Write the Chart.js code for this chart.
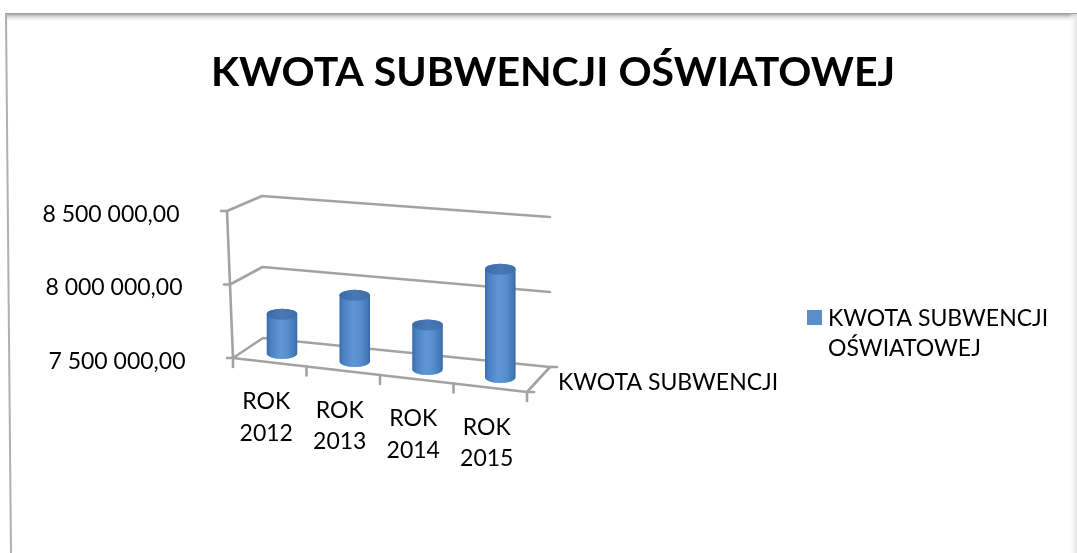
<!DOCTYPE html>
<html><head><meta charset="utf-8">
<script src="https://cdn.jsdelivr.net/npm/chart.js@4.4.1/dist/chart.umd.min.js"></script>
<style>html,body{margin:0;padding:0;background:#fff;overflow:hidden}#wrap{position:relative;width:1077px;height:553px}</style>
</head><body><div id="wrap"><canvas id="c" width="1077" height="553"></canvas></div>
<script>
// ---- data ----
const chartTitle = 'KWOTA SUBWENCJI OŚWIATOWEJ';
const categories = ['ROK 2012', 'ROK 2013', 'ROK 2014', 'ROK 2015'];
const seriesName = 'KWOTA SUBWENCJI OŚWIATOWEJ';
const depthAxisLabel = 'KWOTA SUBWENCJI';
const subventionValues = [7770000, 7950000, 7800000, 8220000];
const yTickValues = [7500000, 8000000, 8500000];
const yTickLabels = ['7 500 000,00', '8 000 000,00', '8 500 000,00'];

// ---- 3D frame (layout, screen corners of the wall box) ----
const FONT = 'Lato';
const C = {
  F00: [233, 358], F10: [527, 392], F01: [227, 211], F11: [527, 240],
  B00: [263, 338], B10: [550, 367], B01: [262, 196], B11: [550, 217]
};
const BAR_DEPTH = 0.42;
function bil(a, b, c, d, u, v) {
  return [
    (1-u)*(1-v)*a[0] + u*(1-v)*b[0] + (1-u)*v*c[0] + u*v*d[0],
    (1-u)*(1-v)*a[1] + u*(1-v)*b[1] + (1-u)*v*c[1] + u*v*d[1]
  ];
}
function P(u, v, w) {
  const f = bil(C.F00, C.F10, C.F01, C.F11, u, v);
  const b = bil(C.B00, C.B10, C.B01, C.B11, u, v);
  return [f[0] + (b[0]-f[0])*w, f[1] + (b[1]-f[1])*w];
}
function line(ctx, a, b) { ctx.beginPath(); ctx.moveTo(a[0], a[1]); ctx.lineTo(b[0], b[1]); ctx.stroke(); }

const GRID = '#a3a3a3';

const threeD = {
  id: 'threeD',
  beforeDatasetsDraw(chart) {
    const ctx = chart.ctx, xs = chart.scales.x, ys = chart.scales.y;
    const U = px => (px - xs.left) / (xs.right - xs.left);
    const V = py => (ys.bottom - py) / (ys.bottom - ys.top);
    ctx.save();
    // page frame
    let g = ctx.createLinearGradient(0, 13, 0, 22);
    g.addColorStop(0, '#9a9a9a'); g.addColorStop(0.25, '#bdbdbd'); g.addColorStop(1, 'rgba(255,255,255,0)');
    ctx.fillStyle = g; ctx.fillRect(5, 13, 1072, 9);
    g = ctx.createLinearGradient(1068, 0, 1077, 0);
    g.addColorStop(0, 'rgba(255,255,255,0)'); g.addColorStop(1, '#e2e2e2');
    ctx.fillStyle = g; ctx.fillRect(1068, 14, 9, 539);
    ctx.strokeStyle = '#b0b0b0'; ctx.lineWidth = 2;
    line(ctx, [6, 14], [11, 553]);

    // walls
    ctx.strokeStyle = GRID; ctx.lineWidth = 2.6; ctx.lineCap = 'round'; ctx.lineJoin = 'round';
    yTickValues.forEach(t => {
      const v = V(ys.getPixelForValue(t));
      ctx.beginPath();
      const a = P(0, v, 0), b = P(0, v, 1), c = P(1, v, 1);
      ctx.moveTo(a[0], a[1]); ctx.lineTo(b[0], b[1]); ctx.lineTo(c[0], c[1]); ctx.stroke();
      line(ctx, a, [a[0]-6, a[1]]);
    });
    line(ctx, P(0, 0, 0), P(0, 1, 0));
    ctx.beginPath();
    let a = P(0, 0, 0), b = P(1, 0, 0), c = P(1, 0, 1);
    ctx.moveTo(a[0], a[1]); ctx.lineTo(b[0], b[1]); ctx.lineTo(c[0], c[1]); ctx.stroke();
    line(ctx, c, [c[0]+7, c[1]]);
    line(ctx, b, [b[0]+7, b[1]]);
    const centers = categories.map((_, i) => xs.getPixelForValue(i));
    const bounds = [xs.left];
    for (let i = 1; i < centers.length; i++) bounds.push((centers[i-1] + centers[i]) / 2);
    bounds.push(xs.right);
    bounds.forEach(px => { const p = P(U(px), 0, 0); line(ctx, p, [p[0], p[1] + 9]); });

    // y labels
    const fs = 23, cap = 0.72 * fs;
    ctx.fillStyle = '#000'; ctx.font = fs + 'px ' + FONT; ctx.textBaseline = 'alphabetic';
    ctx.textAlign = 'right';
    yTickValues.forEach((t, i) => {
      const p = P(0, V(ys.getPixelForValue(t)), 0);
      ctx.fillText(yTickLabels[i], p[0] - 47.5, p[1] + 2.5 + cap / 2);
    });
    ctx.textAlign = 'center';
    categories.forEach((lab, i) => {
      const p = P(U(centers[i]), 0, 0);
      const parts = lab.split(' ');
      ctx.fillText(parts[0], p[0] - 3.5, p[1] + 38.5 + cap / 2);
      ctx.fillText(parts[1], p[0] - 3.5, p[1] + 70 + cap / 2);
    });
    ctx.textAlign = 'left';
    ctx.fillText(depthAxisLabel, c[0] + 8, 382 + cap / 2);
    ctx.restore();
  },
  afterDatasetsDraw(chart) {
    const ctx = chart.ctx, xs = chart.scales.x, ys = chart.scales.y;
    const U = px => (px - xs.left) / (xs.right - xs.left);
    const V = py => (ys.bottom - py) / (ys.bottom - ys.top);
    const meta = chart.getDatasetMeta(0);
    ctx.save();
    meta.data.forEach(bar => {
      const uc = U(bar.x), hw = bar.width / 2 / (xs.right - xs.left);
      const vt = Math.min(1, V(bar.y)), vb = Math.max(0, V(bar.base));
      const cb = P(uc, vb, BAR_DEPTH), ct = P(uc, vt, BAR_DEPTH);
      const l = P(uc - hw, vb, BAR_DEPTH), r = P(uc + hw, vb, BAR_DEPTH);
      const rx = (r[0] - l[0]) / 2, ry = rx * 0.36;
      const cx = cb[0];
      const g = ctx.createLinearGradient(cx - rx, 0, cx + rx, 0);
      g.addColorStop(0, '#3a6ca8'); g.addColorStop(0.12, '#4880c2'); g.addColorStop(0.45, '#5f97d6');
      g.addColorStop(0.7, '#558dce'); g.addColorStop(0.92, '#4377b6'); g.addColorStop(1, '#3868a3');
      ctx.fillStyle = g;
      ctx.beginPath();
      ctx.moveTo(cx - rx, ct[1]);
      ctx.lineTo(cx - rx, cb[1]);
      ctx.ellipse(cx, cb[1], rx, ry, 0, Math.PI, 0, true);
      ctx.lineTo(cx + rx, ct[1]);
      ctx.ellipse(cx, ct[1], rx, ry, 0, 0, Math.PI, true);
      ctx.closePath(); ctx.fill();
      const gt = ctx.createLinearGradient(cx - rx, 0, cx + rx, 0);
      gt.addColorStop(0, '#3b6ba7'); gt.addColorStop(0.5, '#4878b5'); gt.addColorStop(1, '#3e6eab');
      ctx.fillStyle = gt;
      ctx.beginPath(); ctx.ellipse(cx, ct[1], rx, ry, 0, 0, Math.PI * 2); ctx.fill();
    });
    const fs = 23, cap = 0.72 * fs;
    ctx.fillStyle = '#5b8fcc'; ctx.fillRect(807, 310, 15, 15);
    ctx.fillStyle = '#000'; ctx.font = fs + 'px ' + FONT; ctx.textAlign = 'left'; ctx.textBaseline = 'alphabetic';
    const words = seriesName.split(' ');
    ctx.fillText(words.slice(0, 2).join(' '), 828, 318 + cap / 2);
    ctx.fillText(words.slice(2).join(' '), 828, 348 + cap / 2);
    ctx.restore();
  }
};

new Chart(document.getElementById('c'), {
  type: 'bar',
  data: {
    labels: categories,
    datasets: [{
      label: seriesName,
      data: subventionValues,
      backgroundColor: 'rgba(0,0,0,0)',
      borderWidth: 0,
      categoryPercentage: 1,
      barPercentage: 0.42
    }]
  },
  options: {
    responsive: false,
    animation: false,
    layout: { padding: { left: 29, right: 0, top: 0, bottom: 0 } },
    plugins: {
      title: { display: true, text: chartTitle, color: '#000', font: { family: FONT, size: 41, weight: 'bold' }, padding: { top: 48, bottom: 10 } },
      legend: { display: false },
      tooltip: { enabled: false }
    },
    scales: {
      x: { display: false },
      y: { display: false, min: 7500000, max: 8500000, ticks: { stepSize: 500000 } }
    }
  },
  plugins: [threeD]
});
</script></body></html>
